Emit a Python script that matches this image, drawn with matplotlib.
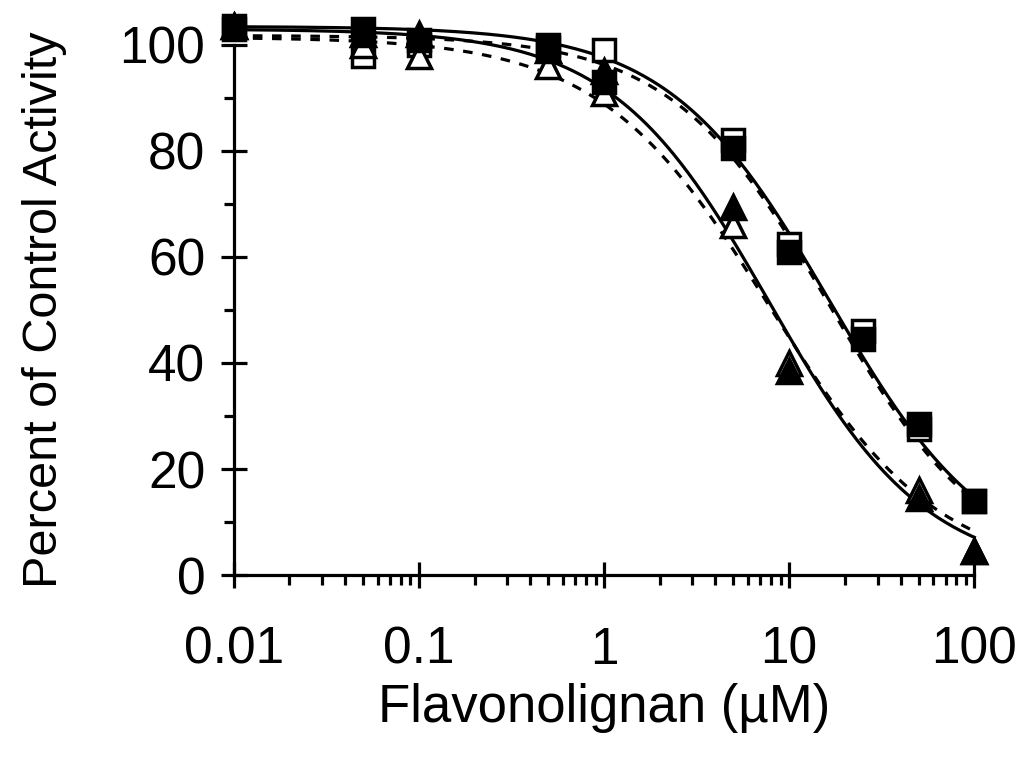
import numpy as np
import matplotlib.pyplot as plt
from matplotlib.ticker import LogLocator, NullFormatter, FixedLocator

plt.rcParams['font.family'] = ['Liberation Sans', 'DejaVu Sans']

# concentrations (uM)
conc = [0.01, 0.05, 0.1, 0.5, 1, 5, 10, 25, 50, 100]
conc_tri = [0.01, 0.05, 0.1, 0.5, 1, 5, 10, 50, 100]

# percent of control activity
sq_open = [103.5, 98, 100, 100, 99, 82, 62.5, 46, 27.5, 14]
sq_filled = [103, 103, 101, 99.5, 93, 80.5, 61, 44.5, 28.5, 14]
tri_open = [103.5, 100, 98, 96, 91, 66, 40, 16, 4.5]
tri_filled = [103.5, 102, 102, 99, 95, 69.5, 38.5, 14.5, 4.5]

# fitted curve parameters: top, IC50, hill slope
fit_sq_solid = (103.5, 16.5, 1.0)
fit_sq_dash = (101.8, 16.5, 1.02)
fit_tri_solid = (103.0, 7.8, 1.02)
fit_tri_dash = (101.5, 7.8, 0.95)


def curve(x, p):
    top, ic50, h = p
    return top / (1 + (x / ic50) ** h)


fig = plt.figure(figsize=(10.16, 7.61), dpi=100)
ax = fig.add_axes([0.230, 0.2444, 0.729, 0.6965])

xs = np.logspace(-2, 2, 400)
lw = 2.3
ax.plot(xs, curve(xs, fit_sq_solid), color='black', lw=lw, clip_on=False)
ax.plot(xs, curve(xs, fit_sq_dash), color='black', lw=lw, ls=(0, (3, 3)), clip_on=False)
ax.plot(xs, curve(xs, fit_tri_solid), color='black', lw=lw, clip_on=False)
ax.plot(xs, curve(xs, fit_tri_dash), color='black', lw=lw, ls=(0, (3, 3)), clip_on=False)

ms = 16
mew = 2.5
ax.plot(conc, sq_open, 's', ms=ms, mfc='white', mec='black', mew=mew, clip_on=False, zorder=3)
ax.plot(conc_tri, tri_open, '^', ms=ms + 1, mfc='white', mec='black', mew=mew, clip_on=False, zorder=3)
ax.plot(conc, sq_filled, 's', ms=ms, mfc='black', mec='black', mew=mew, clip_on=False, zorder=4)
ax.plot(conc_tri, tri_filled, '^', ms=ms + 1, mfc='black', mec='black', mew=mew, clip_on=False, zorder=4)

ax.set_xscale('log')
ax.set_xlim(0.01, 100)
ax.set_ylim(0, 100)

ax.spines['top'].set_visible(False)
ax.spines['right'].set_visible(False)
ax.spines['left'].set_linewidth(2.3)
ax.spines['bottom'].set_linewidth(2.3)

ax.xaxis.set_major_locator(FixedLocator([0.01, 0.1, 1, 10, 100]))
ax.set_xticklabels(['0.01', '0.1', '1', '10', '100'])
ax.xaxis.set_minor_locator(LogLocator(base=10, subs=np.arange(2, 10), numticks=20))
ax.xaxis.set_minor_formatter(NullFormatter())
ax.set_yticks([0, 20, 40, 60, 80, 100])
ax.set_yticks([10, 30, 50, 70, 90], minor=True)

ax.tick_params(axis='both', which='major', direction='inout', length=19, width=2.3,
               labelsize=37)
ax.tick_params(axis='both', which='minor', direction='out', length=7.5, width=2.3)
ax.tick_params(axis='x', which='major', pad=27)
ax.tick_params(axis='y', which='major', pad=11)

ax.set_xlabel('Flavonolignan (µM)', fontsize=38, labelpad=6)
ax.set_ylabel('Percent of Control Activity', fontsize=35, labelpad=38)

plt.savefig('out.png', dpi=100)
